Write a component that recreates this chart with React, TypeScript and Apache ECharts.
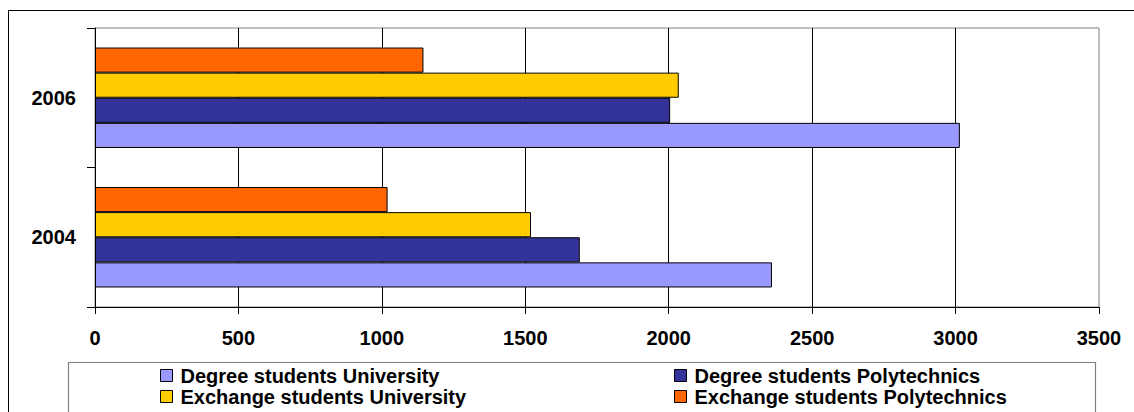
import React, { useEffect, useRef } from "react";
import * as echarts from "echarts";

const categories = ["2004", "2006"];
const seriesNames = [
  "Degree students University",
  "Degree students Polytechnics",
  "Exchange students University",
  "Exchange students Polytechnics",
];
const degreeUniversity = [2360, 3015];
const degreePolytechnics = [1690, 2005];
const exchangeUniversity = [1520, 2035];
const exchangePolytechnics = [1020, 1145];
const seriesColors = ["#9999FF", "#333399", "#FFCC00", "#FF6600"];
const xMin = 0;
const xMax = 3500;
const xInterval = 500;

const FONT = "'Liberation Sans', Arial, sans-serif";

export default function App() {
  const ref = useRef<HTMLDivElement>(null);
  useEffect(() => {
    if (!ref.current) return;
    const chart = echarts.init(ref.current, undefined, { renderer: "svg" });
    const values = [degreeUniversity, degreePolytechnics, exchangeUniversity, exchangePolytechnics];
    const legendText = {
      fontFamily: FONT,
      fontWeight: "bold" as const,
      fontSize: 20,
      color: "#000",
      lineHeight: 21,
      padding: [0, 0, 0, 3],
    };
    // ECharts places the first series of a horizontal bar group at the top,
    // so series are added in reverse to keep "Degree students University" at the bottom.
    const order = [3, 2, 1, 0];
    chart.setOption({
      animation: false,
      backgroundColor: "#fff",
      grid: {
        left: 95,
        top: 28,
        right: 35,
        bottom: 105,
        show: true,
        borderColor: "#808080",
        borderWidth: 1,
        backgroundColor: "transparent",
      },
      xAxis: {
        type: "value",
        min: xMin,
        max: xMax,
        interval: xInterval,
        axisLine: { show: true, lineStyle: { color: "#000", width: 1 } },
        axisTick: { show: true, length: 7, lineStyle: { color: "#000" } },
        axisLabel: {
          margin: 21,
          fontFamily: FONT,
          fontWeight: "bold",
          fontSize: 20,
          color: "#000",
          formatter: (v: number) => String(v),
        },
        splitLine: { show: true, showMaxLine: false, lineStyle: { color: "#000", width: 1 } },
      },
      yAxis: {
        type: "category",
        data: categories,
        axisLine: { show: true, lineStyle: { color: "#000", width: 1 } },
        axisTick: { show: true, length: 8, lineStyle: { color: "#000" } },
        axisLabel: {
          margin: 19,
          fontFamily: FONT,
          fontWeight: "bold",
          fontSize: 20,
          color: "#000",
          padding: [0, 0, 5, 0],
        },
        splitLine: { show: false },
      },
      legend: [
        {
          orient: "vertical",
          left: 160,
          top: 365,
          itemWidth: 12,
          itemHeight: 12,
          itemGap: 0,
          icon: "rect",
          padding: 0,
          itemStyle: { borderColor: "#000", borderWidth: 1 },
          textStyle: legendText,
          data: [seriesNames[0], seriesNames[2]],
          selectedMode: false,
        },
        {
          orient: "vertical",
          left: 674,
          top: 365,
          itemWidth: 12,
          itemHeight: 12,
          itemGap: 0,
          icon: "rect",
          padding: 0,
          itemStyle: { borderColor: "#000", borderWidth: 1 },
          textStyle: legendText,
          data: [seriesNames[1], seriesNames[3]],
          selectedMode: false,
        },
      ],
      graphic: [
        {
          type: "rect",
          shape: { x: 8.5, y: 10.5, width: 1300, height: 600 },
          style: { fill: "none", stroke: "#000", lineWidth: 1 },
          silent: true,
        },
        {
          type: "rect",
          shape: { x: 68.5, y: 362.5, width: 1027, height: 120 },
          style: { fill: "none", stroke: "#808080", lineWidth: 1.2 },
          silent: true,
        },
      ],
      series: order.map((i) => ({
        name: seriesNames[i],
        type: "bar",
        data: values[i],
        barGap: "0%",
        barCategoryGap: "28%",
        itemStyle: { color: seriesColors[i], borderColor: "#000", borderWidth: 1 },
      })),
    });
    return () => chart.dispose();
  }, []);
  return (
    <div
      ref={ref}
      style={{ position: "absolute", left: 0, top: 0, width: 1134, height: 412 }}
    />
  );
}
